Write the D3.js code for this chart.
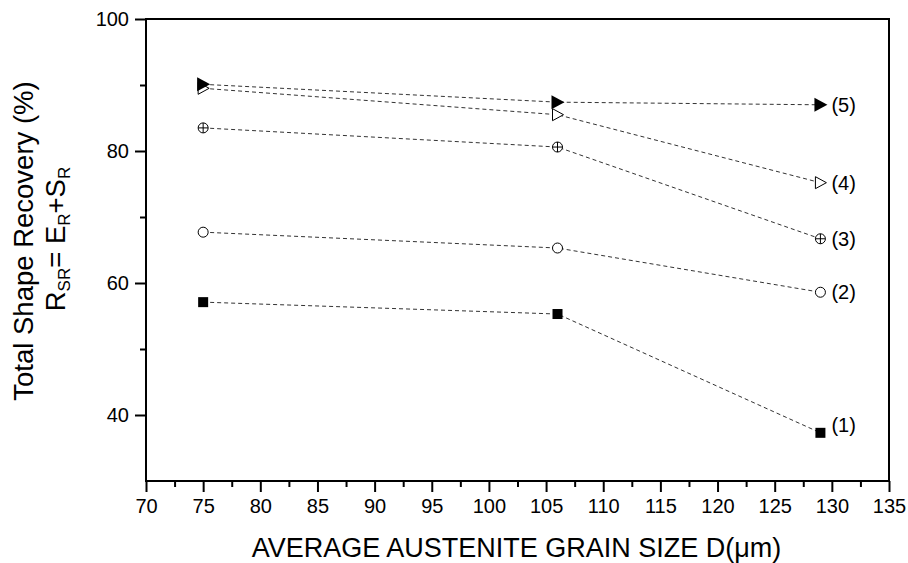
<!DOCTYPE html>
<html>
<head>
<meta charset="utf-8">
<script src="https://cdn.jsdelivr.net/npm/d3@7"></script>
<style>
  body { margin: 0; background: #fff; }
  text { font-family: "Liberation Sans", Arial, sans-serif; fill: #000; }
</style>
</head>
<body>
<svg id="chart" width="908" height="563"></svg>
<script>
// Data
const grainSize = [75, 106, 129];
const series1 = [57.1, 55.3, 37.3];
const series2 = [67.7, 65.3, 58.6];
const series3 = [83.5, 80.6, 66.7];
const series4 = [89.5, 85.5, 75.2];
const series5 = [90.1, 87.4, 87.0];
const seriesLabels = ["(1)", "(2)", "(3)", "(4)", "(5)"];
const xTicks = [70, 75, 80, 85, 90, 95, 100, 105, 110, 115, 120, 125, 130, 135];
const yTicks = [40, 60, 80, 100];

const allSeries = [
  { label: seriesLabels[0], values: series1, marker: "square" },
  { label: seriesLabels[1], values: series2, marker: "circle" },
  { label: seriesLabels[2], values: series3, marker: "circleplus" },
  { label: seriesLabels[3], values: series4, marker: "triOpen" },
  { label: seriesLabels[4], values: series5, marker: "triFilled" }
];

const margin = { top: 19, right: 19, bottom: 82, left: 146 };
const width = 908 - margin.left - margin.right;
const height = 563 - margin.top - margin.bottom;

const svg = d3.select("#chart");
const g = svg.append("g").attr("transform", `translate(${margin.left},${margin.top})`);

const x = d3.scaleLinear().domain([70, 135]).range([0, width]);
const y = d3.scaleLinear().domain([30, 100]).range([height, 0]);

// frame
g.append("rect")
  .attr("width", width).attr("height", height)
  .attr("fill", "none").attr("stroke", "#000").attr("stroke-width", 2);

const tickFont = "20px";

// x axis: major + minor ticks
const xAxis = g.append("g").attr("transform", `translate(0,${height})`);
xAxis.call(d3.axisBottom(x).tickValues(d3.range(72.5, 135, 5)).tickSize(6).tickFormat(""));
xAxis.call(g2 => g2.append("g").call(d3.axisBottom(x).tickValues(xTicks).tickSize(11).tickPadding(7).tickFormat(d3.format("d"))));
xAxis.selectAll(".domain").remove();
xAxis.selectAll("line").attr("stroke", "#000").attr("stroke-width", 2);
xAxis.selectAll("text").style("font-size", tickFont).style("font-family", "Liberation Sans, Arial, sans-serif");

// y axis
const yAxis = g.append("g");
yAxis.call(d3.axisLeft(y).tickValues([50, 70, 90]).tickSize(6).tickFormat(""));
yAxis.call(g2 => g2.append("g").call(d3.axisLeft(y).tickValues(yTicks).tickSize(11).tickPadding(6).tickFormat(d3.format("d"))));
yAxis.selectAll(".domain").remove();
yAxis.selectAll("line").attr("stroke", "#000").attr("stroke-width", 2);
yAxis.selectAll("text").style("font-size", tickFont).style("font-family", "Liberation Sans, Arial, sans-serif");

// dashed lines
const line = d3.line().x((d, i) => x(grainSize[i])).y(d => y(d));
allSeries.forEach(s => {
  g.append("path")
    .attr("d", line(s.values))
    .attr("fill", "none")
    .attr("stroke", "#333")
    .attr("stroke-width", 1)
    .attr("stroke-dasharray", "4,3");
});

// markers
function drawMarker(sel, type) {
  if (type === "square") {
    sel.append("rect").attr("x", -5).attr("y", -5).attr("width", 10).attr("height", 10).attr("fill", "#000");
  } else if (type === "circle") {
    sel.append("circle").attr("r", 5).attr("fill", "#fff").attr("stroke", "#000").attr("stroke-width", 1);
  } else if (type === "circleplus") {
    sel.append("circle").attr("r", 5).attr("fill", "#fff").attr("stroke", "#000").attr("stroke-width", 1);
    sel.append("path").attr("d", "M-5,0H5M0,-5V5").attr("stroke", "#000").attr("stroke-width", 1);
  } else if (type === "triOpen") {
    sel.append("path").attr("d", "M-5,-6L6,0L-5,6Z").attr("fill", "#fff").attr("stroke", "#000").attr("stroke-width", 1);
  } else if (type === "triFilled") {
    sel.append("path").attr("d", "M-6,-7L7,0L-6,7Z").attr("fill", "#000");
  }
}

allSeries.forEach(s => {
  s.values.forEach((v, i) => {
    const m = g.append("g").attr("transform", `translate(${x(grainSize[i])},${y(v)})`);
    drawMarker(m, s.marker);
  });
  // series label next to last point
  const last = s.values.length - 1;
  g.append("text")
    .attr("x", x(grainSize[last]) + 11)
    .attr("y", y(s.values[last]) + (s.marker === "square" ? -8 : 0))
    .attr("dy", "0.35em")
    .style("font-size", "20px")
    .text(s.label);
});

// x axis title
svg.append("text")
  .attr("x", margin.left + width / 2 - 1)
  .attr("y", 557)
  .attr("text-anchor", "middle")
  .style("font-size", "27px")
  .text("AVERAGE AUSTENITE GRAIN SIZE D(\u03bcm)");

// y axis title (two lines)
svg.append("text")
  .attr("transform", `translate(33,241) rotate(-90)`)
  .attr("text-anchor", "middle")
  .style("font-size", "27.5px")
  .text("Total Shape Recovery (%)");

const t2 = svg.append("text")
  .attr("transform", `translate(65,239) rotate(-90)`)
  .attr("text-anchor", "middle")
  .style("font-size", "27.5px");
t2.append("tspan").text("R");
t2.append("tspan").attr("baseline-shift", "-30%").style("font-size", "17px").text("SR");
t2.append("tspan").text("= E");
t2.append("tspan").attr("baseline-shift", "-30%").style("font-size", "17px").text("R");
t2.append("tspan").text("+S");
t2.append("tspan").attr("baseline-shift", "-30%").style("font-size", "17px").text("R");
</script>
</body>
</html>
